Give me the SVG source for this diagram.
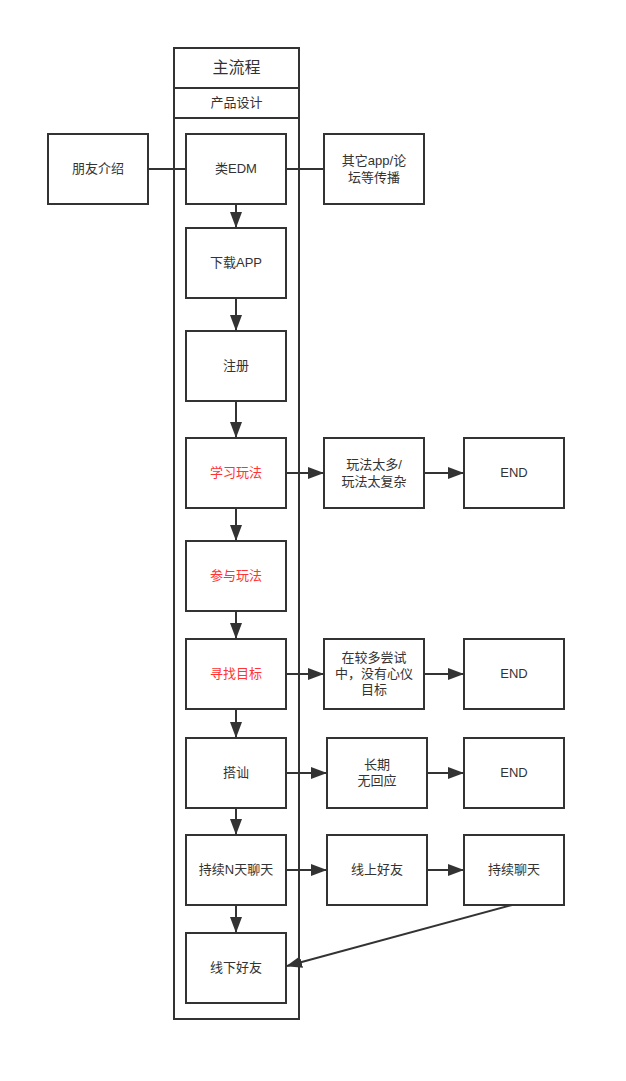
<svg xmlns="http://www.w3.org/2000/svg" width="626" height="1081" viewBox="0 0 626 1081">
<style>
.box{fill:#fff;stroke:#333;stroke-width:2}
.t{font-family:"Liberation Sans","Noto Sans CJK SC",sans-serif;font-size:13px;fill:#333;text-anchor:middle;dominant-baseline:central}
.r{fill:#ff3333}
.e{fill:none;stroke:#333;stroke-width:2}
</style>
<defs>
<marker id="a" markerWidth="16" markerHeight="12" viewBox="0 0 16 12" refX="15" refY="6" orient="auto" markerUnits="userSpaceOnUse">
<path d="M0,0 L16,6 L0,12 z" fill="#333"/>
</marker>
</defs>
<rect width="626" height="1081" fill="#fff"/>
<g id="pool">
<rect class="box" x="174" y="48" width="125" height="971"/>
<line class="e" x1="174" y1="88" x2="299" y2="88"/>
<line class="e" x1="174" y1="118" x2="299" y2="118"/>
<text class="t" x="236.5" y="67" style="font-size:16px">主流程</text>
<text class="t" x="236.5" y="102">产品设计</text>
</g>
<g id="edges">
<line class="e" x1="148" y1="169" x2="186" y2="169"/>
<line class="e" x1="286" y1="169" x2="324" y2="169"/>
<line class="e" x1="236" y1="204" x2="236" y2="227" marker-end="url(#a)"/>
<line class="e" x1="236" y1="298" x2="236" y2="330" marker-end="url(#a)"/>
<line class="e" x1="236" y1="401" x2="236" y2="437" marker-end="url(#a)"/>
<line class="e" x1="236" y1="508" x2="236" y2="540" marker-end="url(#a)"/>
<line class="e" x1="236" y1="611" x2="236" y2="638" marker-end="url(#a)"/>
<line class="e" x1="236" y1="709" x2="236" y2="737" marker-end="url(#a)"/>
<line class="e" x1="236" y1="808" x2="236" y2="834" marker-end="url(#a)"/>
<line class="e" x1="236" y1="905" x2="236" y2="932" marker-end="url(#a)"/>
<line class="e" x1="286" y1="473" x2="323" y2="473" marker-end="url(#a)"/>
<line class="e" x1="424" y1="473" x2="463" y2="473" marker-end="url(#a)"/>
<line class="e" x1="286" y1="674" x2="323" y2="674" marker-end="url(#a)"/>
<line class="e" x1="424" y1="674" x2="463" y2="674" marker-end="url(#a)"/>
<line class="e" x1="286" y1="773" x2="326" y2="773" marker-end="url(#a)"/>
<line class="e" x1="427" y1="773" x2="463" y2="773" marker-end="url(#a)"/>
<line class="e" x1="286" y1="870" x2="326" y2="870" marker-end="url(#a)"/>
<line class="e" x1="427" y1="870" x2="463" y2="870" marker-end="url(#a)"/>
<line class="e" x1="512" y1="905" x2="287" y2="966" marker-end="url(#a)"/>
</g>
<g id="n-friend"><rect class="box" x="48" y="134" width="100" height="70"/><text class="t" x="98" y="168">朋友介绍</text></g>
<g id="n-edm"><rect class="box" x="186" y="134" width="100" height="70"/><text class="t" x="236" y="168">类EDM</text></g>
<g id="n-other"><rect class="box" x="324" y="134" width="100" height="70"/><text class="t" x="374" y="160">其它app/论</text><text class="t" x="374" y="177">坛等传播</text></g>
<g id="n-download"><rect class="box" x="186" y="228" width="100" height="70"/><text class="t" x="236" y="262">下载APP</text></g>
<g id="n-register"><rect class="box" x="186" y="331" width="100" height="70"/><text class="t" x="236" y="365">注册</text></g>
<g id="n-learn"><rect class="box" x="186" y="438" width="100" height="70"/><text class="t r" x="236" y="472">学习玩法</text></g>
<g id="n-too-many"><rect class="box" x="324" y="438" width="100" height="70"/><text class="t" x="374" y="464">玩法太多/</text><text class="t" x="374" y="481">玩法太复杂</text></g>
<g id="n-end1"><rect class="box" x="464" y="438" width="100" height="70"/><text class="t" x="514" y="472">END</text></g>
<g id="n-play"><rect class="box" x="186" y="541" width="100" height="70"/><text class="t r" x="236" y="575">参与玩法</text></g>
<g id="n-find"><rect class="box" x="186" y="639" width="100" height="70"/><text class="t r" x="236" y="673">寻找目标</text></g>
<g id="n-try"><rect class="box" x="324" y="639" width="100" height="70"/><text class="t" x="374" y="657">在较多尝试</text><text class="t" x="374" y="673">中，没有心仪</text><text class="t" x="374" y="689">目标</text></g>
<g id="n-end2"><rect class="box" x="464" y="639" width="100" height="70"/><text class="t" x="514" y="673">END</text></g>
<g id="n-chat-up"><rect class="box" x="186" y="738" width="100" height="70"/><text class="t" x="236" y="772">搭讪</text></g>
<g id="n-noreply"><rect class="box" x="327" y="738" width="100" height="70"/><text class="t" x="377" y="764">长期</text><text class="t" x="377" y="780">无回应</text></g>
<g id="n-end3"><rect class="box" x="464" y="738" width="100" height="70"/><text class="t" x="514" y="772">END</text></g>
<g id="n-chat-n"><rect class="box" x="186" y="835" width="100" height="70"/><text class="t" x="236" y="869">持续N天聊天</text></g>
<g id="n-online"><rect class="box" x="327" y="835" width="100" height="70"/><text class="t" x="377" y="869">线上好友</text></g>
<g id="n-keep-chat"><rect class="box" x="464" y="835" width="100" height="70"/><text class="t" x="514" y="869">持续聊天</text></g>
<g id="n-offline"><rect class="box" x="186" y="933" width="100" height="70"/><text class="t" x="236" y="967">线下好友</text></g>
</svg>
